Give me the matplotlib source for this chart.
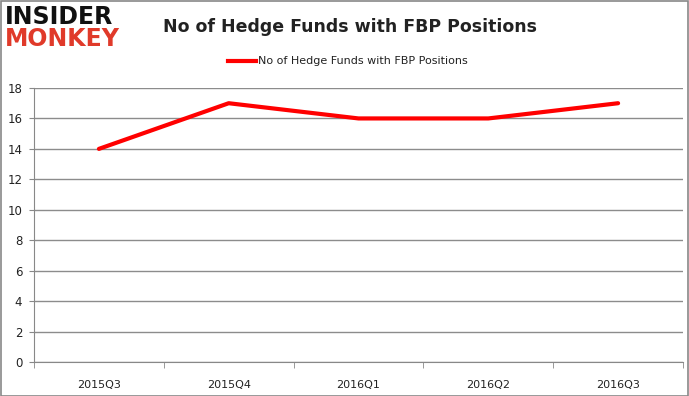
import matplotlib
matplotlib.use("Agg")
import matplotlib.pyplot as plt
from matplotlib.patches import Rectangle

categories = ["2015Q3", "2015Q4", "2016Q1", "2016Q2", "2016Q3"]
values = [14, 17, 16, 16, 17]
yticks = [0, 2, 4, 6, 8, 10, 12, 14, 16, 18]
series_name = "No of Hedge Funds with FBP Positions"
title = "No of Hedge Funds with FBP Positions"

W, H = 689, 396
fig = plt.figure(figsize=(W / 100, H / 100), dpi=100)
fig.patch.set_facecolor("white")

# outer border
fig.add_artist(Rectangle((0.5 / W, 0.5 / H), (W - 1.5) / W, (H - 1.5) / H,
                         transform=fig.transFigure, fill=False,
                         edgecolor="#888888", linewidth=1.2))

left, right, top, bottom = 34, 683, 88, 362
ax = fig.add_axes([left / W, 1 - bottom / H, (right - left) / W, (bottom - top) / H])

x = list(range(len(categories)))
ax.plot(x, values, color="#ff0000", linewidth=3, solid_capstyle="round", zorder=3)

ax.set_xlim(-0.5, len(categories) - 0.5)
ax.set_ylim(0, 18)
ax.set_yticks(yticks)
ax.set_yticklabels([str(v) for v in yticks], fontsize=8.5, color="#222222")
ax.set_xticks(x)
ax.set_xticklabels(categories, fontsize=8, color="#222222")
ax.tick_params(axis="x", length=0, pad=13)
ax.set_xticks([i - 0.5 for i in range(len(categories) + 1)], minor=True)
ax.tick_params(axis="x", which="minor", length=4, color="#888888", direction="out")
ax.tick_params(axis="y", length=3.5, color="#888888", direction="out", pad=5)

ax.grid(axis="y", color="#8c8c8c", linewidth=1)
ax.set_axisbelow(True)
for s in ["top", "right"]:
    ax.spines[s].set_visible(False)
ax.spines["left"].set_color("#888888")
ax.spines["bottom"].set_color("#888888")

fig.text(350 / W, 1 - 27 / H, title, ha="center", va="center",
         fontsize=12.5, fontweight="bold", color="#222222")

# legend
fig.add_artist(plt.Line2D([228 / W, 256 / W], [1 - 61 / H, 1 - 61 / H],
                          color="#ff0000", linewidth=3, transform=fig.transFigure))
fig.text(258 / W, 1 - 61 / H, series_name, ha="left", va="center",
         fontsize=8, color="#222222")

# logo
fig.text(5 / W, 1 - 17 / H, "INSIDER", ha="left", va="center",
         fontsize=17, fontweight="heavy", color="#111111", family="DejaVu Sans",
         fontstretch="expanded")
fig.text(5 / W, 1 - 39 / H, "MONKEY", ha="left", va="center",
         fontsize=17, fontweight="heavy", color="#e03a2a", family="DejaVu Sans")

fig.savefig("out.png", dpi=100)
